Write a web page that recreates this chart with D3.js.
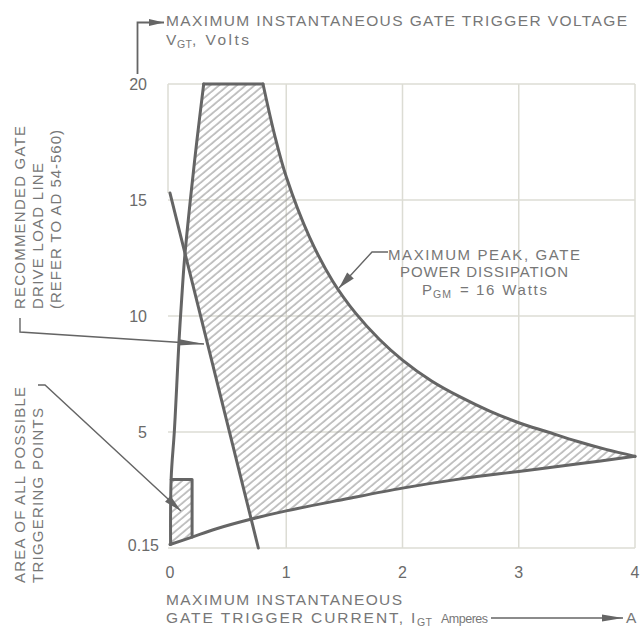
<!DOCTYPE html>
<html><head><meta charset="utf-8">
<script src="https://cdn.jsdelivr.net/npm/d3@7"></script>
<style>body{margin:0;background:#fff}svg{display:block}</style>
</head><body><svg id="c" width="640" height="628"></svg>
<script>
// ---- data ----
const xTicks = [0, 1, 2, 3, 4];
const yTicks = [0.15, 5, 10, 15, 20];
const yTickLabels = ["0.15", "5", "10", "15", "20"];
const gridX = [1, 2, 3, 4];
const gridY = [0, 5, 10, 15, 20];
// maximum peak gate power dissipation (PGM = 16 W), [I, V]
const powerCurve = [[0.8,20],[0.9,17.8],[1.0,16.0],[1.2,13.4],[1.4,11.5],[1.6,10.1],[1.8,9.0],[2.0,8.1],[2.25,7.2],[2.5,6.5],[2.75,5.9],[3.0,5.4],[3.25,5.0],[3.5,4.6],[3.75,4.25],[4.0,3.95]];
// lower boundary of the triggering area, [I, V]
const lowerCurve = [[0,0.15],[0.19,0.47],[0.4,0.83],[0.71,1.26],[1.0,1.6],[1.5,2.1],[2.0,2.58],[2.5,2.98],[3.0,3.3],[3.5,3.62],[4.0,3.95]];
// left boundary (maximum instantaneous gate voltage line), [I, V]
const leftBoundary = [[0.005,0.15],[0.01,3.0],[0.037,5.0],[0.058,7.0],[0.076,8.8],[0.10,10.7],[0.124,12.4],[0.175,15.0],[0.23,17.5],[0.29,20]];
const topEdge = [[0.29,20],[0.8,20]];
// recommended gate drive load line, [I, V]
const loadLine = [[0,15.3],[0.76,0]];
// small box: area of all possible triggering points, [I, V]
const triggerBox = [[0.01,2.95],[0.19,2.95],[0.19,0.47]];

const titleY = "MAXIMUM INSTANTANEOUS GATE TRIGGER VOLTAGE";
const titleX1 = "MAXIMUM INSTANTANEOUS";
const titleX2 = "GATE TRIGGER CURRENT,";
const noteLoad = ["RECOMMENDED GATE", "DRIVE LOAD LINE", "(REFER TO AD 54-560)"];
const noteArea = ["AREA OF ALL POSSIBLE", "TRIGGERING POINTS"];
const notePower = ["MAXIMUM PEAK, GATE", "POWER DISSIPATION"];

// ---- drawing ----
const svg = d3.select("#c");
const x = d3.scaleLinear().domain([0, 4]).range([170, 635]);
const y = d3.scaleLinear().domain([0, 20]).range([548, 84]);
const ink = "#656565", txt = "#777", grid = "#dcdcd4";
const FONT = "'Liberation Sans', Arial, Helvetica, sans-serif";

const defs = svg.append("defs");
const pat = defs.append("pattern").attr("id", "hatch").attr("patternUnits", "userSpaceOnUse")
  .attr("width", 5.7).attr("height", 10).attr("patternTransform", "rotate(50)");
pat.append("line").attr("x1", 1).attr("y1", -1).attr("x2", 1).attr("y2", 11)
  .attr("stroke", "#979797").attr("stroke-width", 1.15);

// grid
const g = svg.append("g");
gridX.forEach(v => g.append("line").attr("x1", x(v)).attr("x2", x(v)).attr("y1", y(20)).attr("y2", y(0))
  .attr("stroke", grid).attr("stroke-width", 1.5));
gridY.forEach(v => g.append("line").attr("x1", x(0) - 2).attr("x2", x(4)).attr("y1", y(v)).attr("y2", y(v))
  .attr("stroke", grid).attr("stroke-width", 1.5));
g.append("line").attr("x1", x(0) - 2).attr("x2", x(0) - 2).attr("y1", y(20)).attr("y2", y(loadLine[0][1]))
  .attr("stroke", grid).attr("stroke-width", 1.5);

const lineGen = c => d3.line().x(d => x(d[0])).y(d => y(d[1])).curve(c);
const cr = d3.curveCatmullRom.alpha(0.5);
const seg = (pts, c) => lineGen(c)(pts);
const join = (...parts) => parts.map((p, i) => i ? p.replace(/^M/, "L") : p).join("") + "Z";

const regionD = join(seg(leftBoundary, cr), seg(topEdge, d3.curveLinear), seg(powerCurve, cr),
  seg(lowerCurve.slice().reverse(), cr));
defs.append("clipPath").attr("id", "mainClip").append("path").attr("d", regionD);

// hatched areas
const slope = (loadLine[1][1] - loadLine[0][1]) / (loadLine[1][0] - loadLine[0][0]);
const lv = i => loadLine[0][1] + slope * (i - loadLine[0][0]);
const p1 = [x(-0.5), y(lv(-0.5))], p2 = [x(1.2), y(lv(1.2))];
const hg = svg.append("g").attr("clip-path", "url(#mainClip)");
hg.append("path").attr("d", d3.line()([p1, p2, [x(5), p2[1]], [x(5), p1[1]]]) + "Z").attr("fill", "url(#hatch)");
hg.append("rect").attr("x", x(0) - 3).attr("y", y(triggerBox[0][1]))
  .attr("width", x(triggerBox[1][0]) - x(0) + 3).attr("height", y(0) - y(triggerBox[0][1]) + 3)
  .attr("fill", "url(#hatch)");

// outlines
const stroke = (d) => svg.append("path").attr("d", d).attr("fill", "none").attr("stroke", ink)
  .attr("stroke-width", 3).attr("stroke-linejoin", "round").attr("stroke-linecap", "round");
stroke(seg(leftBoundary, cr));
stroke(seg(topEdge, d3.curveLinear));
stroke(seg(powerCurve, cr));
stroke(seg(lowerCurve, cr));
stroke(seg(loadLine, d3.curveLinear));
stroke(seg(triggerBox, d3.curveLinear));

// axes tick labels
xTicks.forEach(v => svg.append("text").attr("x", x(v)).attr("y", 578).attr("text-anchor", "middle")
  .attr("font-family", FONT).attr("font-size", 16).attr("fill", "#6a6a6a").text(v));
yTicks.forEach((v, i) => svg.append("text").attr("x", i === 0 ? 159 : 147).attr("y", y(v) + 6)
  .attr("text-anchor", "end").attr("font-family", FONT).attr("font-size", 16).attr("fill", "#6a6a6a")
  .text(yTickLabels[i]));

// helpers
function T(xp, yp, s, size, len, extra) {
  const t = svg.append("text").attr("x", xp).attr("y", yp).attr("font-family", FONT)
    .attr("font-size", size).attr("fill", txt).text(s);
  if (len) t.attr("textLength", len).attr("lengthAdjust", "spacing");
  if (extra) t.attr("transform", extra);
  return t;
}
function arrowHead(tip, from, len, hw) {
  const dx = tip[0] - from[0], dy = tip[1] - from[1], L = Math.hypot(dx, dy);
  const ux = dx / L, uy = dy / L;
  const bx = tip[0] - ux * len, by = tip[1] - uy * len;
  svg.append("path").attr("d", d3.line()([tip, [bx - uy * hw, by + ux * hw], [bx + uy * hw, by - ux * hw]]) + "Z")
    .attr("fill", ink);
}
function leader(pts, len, hw, w) {
  svg.append("path").attr("d", d3.line()(pts)).attr("fill", "none").attr("stroke", ink)
    .attr("stroke-width", w || 1.3);
  arrowHead(pts[pts.length - 1], pts[pts.length - 2], len, hw);
}

// Y axis title
leader([[137.5, 74], [137.5, 22.5], [164, 22.5]], 15, 3.5, 1.8);
T(166, 26, titleY, 15.5, 461);
T(166, 45, "V", 15.5);
T(177, 48, "GT", 10.5, 15);
T(192, 45, ", Volts", 15.5, 57);

// X axis title
T(166, 605, titleX1, 15.5, 236);
T(166, 623, titleX2, 15.5, 237);
T(411, 623, "I", 15.5);
T(417, 626, "GT", 10.5, 15);
T(441, 623, "Amperes", 12.5, 47);
leader([[491, 618], [623, 618]], 21, 3.6, 1.5);
T(626, 623, "A", 15.5);

// load line note
noteLoad.forEach((s, i) => T(0, 0, s, 15, [183, 146, 179][i], `translate(${[25, 43, 61][i]},${309}) rotate(-90)`));
leader([[20, 318], [20, 332], [204, 344]], 26, 3.2, 1.4);

// triggering area note
noteArea.forEach((s, i) => T(0, 0, s, 15, [196, 175][i], `translate(${[25, 43][i]},583) rotate(-90)`));
leader([[38, 385], [45, 385], [181, 511]], 18, 4, 1.4);

// power note
T(388, 260, notePower[0], 15, 192);
T(400, 277, notePower[1], 15, 168);
T(422, 295, "P", 15);
T(433, 298, "GM", 10.5, 18);
T(460, 295, "=", 15);
T(476, 295, "16 Watts", 15, 71);
leader([[388, 252], [372, 252], [339, 288]], 17, 4.5, 1.4);
</script>
</body></html>
